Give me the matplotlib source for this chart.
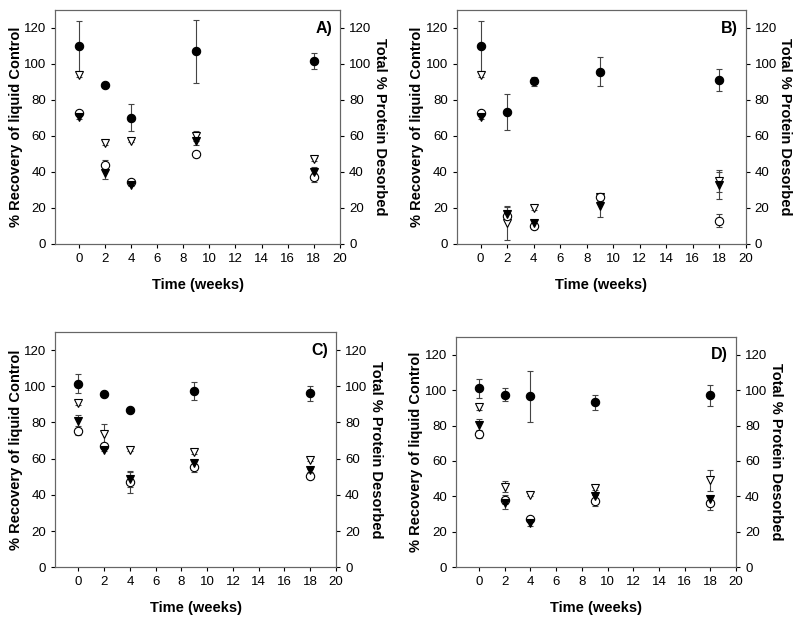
import numpy as np
import matplotlib
matplotlib.use('Agg')
import matplotlib.pyplot as plt

plt.rcParams['font.family'] = ['Liberation Sans', 'DejaVu Sans']

weeks = [0, 2, 4, 9, 18]
panel_names = ['A)', 'B)', 'C)', 'D)']

# % recovery of liquid control (filled circles)
recovery = [
    [110, 88.5, 70, 107, 101.5],
    [110, 73.5, 90.5, 95.7, 91],
    [101.5, 95.5, 87, 97.5, 96],
    [101, 97.5, 96.5, 93, 97],
]
recovery_err = [
    [14, 1, 7.5, 17.5, 4.5],
    [14, 10, 2.5, 8, 6],
    [5.5, 1, 1, 5, 4],
    [5.5, 3.5, 14.5, 4, 6],
]

# total % protein desorbed, open triangles
open_tri = [
    [94, 56, 57, 60, 47],
    [94, 11.5, 20, 26, 35],
    [91, 73.5, 65, 63.5, 59.5],
    [90.5, 45.5, 41, 44.5, 49],
]
open_tri_err = [
    [1.5, 1, 0.5, 3, 1],
    [1.5, 9.5, 1, 2, 6],
    [1.5, 5.5, 1, 1, 1],
    [1.5, 3, 1, 1, 6],
]

# open circles
open_circ = [
    [72.5, 44, 34.5, 50, 37],
    [72.5, 15.5, 10, 26, 13],
    [75, 67, 47, 55.5, 50.5],
    [75, 38, 27.5, 37.5, 36],
]
open_circ_err = [
    [1, 2.5, 0.5, 1.5, 2.5],
    [1, 3, 1, 2, 3.5],
    [2, 1.5, 6, 3, 1],
    [2, 2.5, 1, 3, 3.5],
]

# filled triangles
fill_tri = [
    [70.5, 39.5, 33, 57, 40],
    [70.5, 16.5, 11.5, 21, 32.5],
    [81, 65, 48.5, 57.5, 53.5],
    [80.5, 36, 25, 40, 38.5],
]
fill_tri_err = [
    [1, 3.5, 1, 2, 3],
    [1, 4, 1, 6, 7.5],
    [3, 1, 4, 1.5, 1],
    [3, 3, 1.5, 1, 1],
]

# [left, bottom, width, height] in figure fraction
positions = [
    [0.069, 0.609, 0.356, 0.375],
    [0.571, 0.609, 0.361, 0.375],
    [0.069, 0.091, 0.351, 0.377],
    [0.570, 0.091, 0.350, 0.369],
]


def draw_series(ax, y, err, marker, face):
    ax.errorbar(weeks, y, yerr=err, fmt=marker, ms=6, mfc=face, mec='black',
                mew=0.8, ecolor='#444444', elinewidth=0.8, capsize=2,
                capthick=0.8, zorder=3)


def draw_panel(fig, i):
    ax = fig.add_axes(positions[i])
    draw_series(ax, open_tri[i], open_tri_err[i], 'v', 'white')
    draw_series(ax, open_circ[i], open_circ_err[i], 'o', 'white')
    draw_series(ax, fill_tri[i], fill_tri_err[i], 'v', 'black')
    draw_series(ax, recovery[i], recovery_err[i], 'o', 'black')

    ax.set_xlim(-1.8, 20)
    ax.set_ylim(0, 130)
    ax.set_xticks(np.arange(0, 21, 2))
    ax.set_yticks(np.arange(0, 121, 20))
    ax.tick_params(labelsize=9.5, length=3, width=0.8)
    ax.set_xlabel('Time (weeks)', fontsize=10.5, fontweight='bold', labelpad=9)
    ax.set_ylabel('% Recovery of liquid Control', fontsize=10.5,
                  fontweight='bold', labelpad=1)
    ax.text(0.972, 0.955, panel_names[i], transform=ax.transAxes, ha='right',
            va='top', fontsize=11.5, fontweight='bold')
    for s in ax.spines.values():
        s.set_color('#666666')
        s.set_linewidth(0.8)

    ax2 = ax.twinx()
    ax2.set_ylim(0, 130)
    ax2.set_yticks(np.arange(0, 121, 20))
    ax2.tick_params(labelsize=9.5, length=3, width=0.8)
    ax2.set_ylabel('Total % Protein Desorbed', fontsize=10.5, fontweight='bold',
                   rotation=270, labelpad=11)
    for s in ax2.spines.values():
        s.set_color('#666666')
        s.set_linewidth(0.8)


if __name__ == '__main__':
    fig = plt.figure(figsize=(8, 6.24), dpi=100)
    for i in range(4):
        draw_panel(fig, i)
    fig.savefig('out.png', dpi=100)
